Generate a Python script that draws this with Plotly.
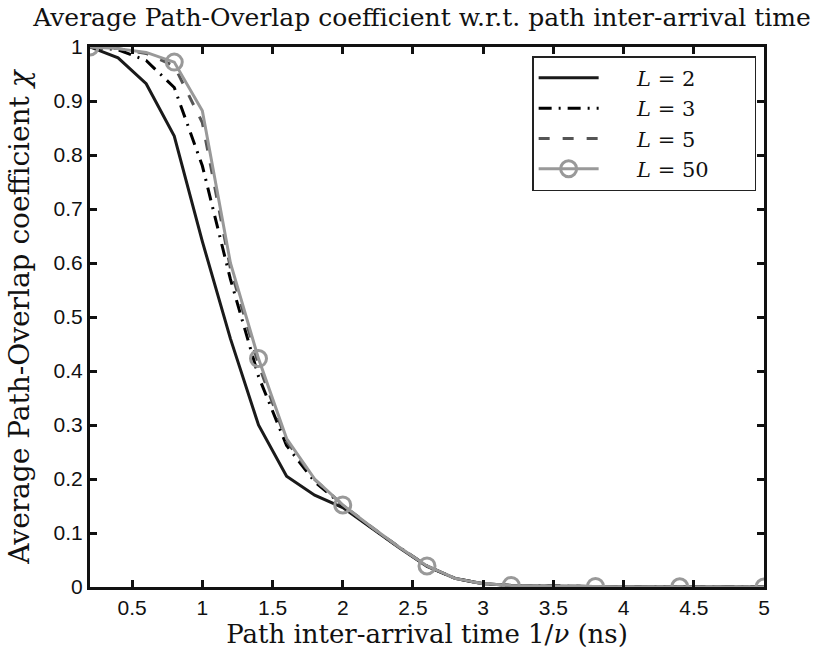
import plotly.graph_objects as go

x = [0.2, 0.4, 0.6, 0.8, 1.0, 1.2, 1.4, 1.6, 1.8, 2.0, 2.2, 2.4, 2.6,
     2.8, 3.0, 3.2, 3.4, 3.6, 3.8, 4.0, 4.2, 4.4, 4.6, 4.8, 5.0]

y_L2 = [1.0, 0.98, 0.932, 0.835, 0.64, 0.46, 0.30, 0.205, 0.17, 0.147, 0.11, 0.073, 0.038,
        0.016, 0.006, 0.003, 0.002, 0.001, 0.001, 0.0005, 0.0004, 0.0003, 0.0002, 0.0001, 0.0]
y_L3 = [1.0, 0.995, 0.975, 0.925, 0.78, 0.57, 0.39, 0.262, 0.195, 0.151, 0.111, 0.074, 0.039,
        0.016, 0.006, 0.003, 0.002, 0.001, 0.001, 0.0005, 0.0004, 0.0003, 0.0002, 0.0001, 0.0]
y_L5 = [1.0, 0.997, 0.988, 0.965, 0.86, 0.59, 0.412, 0.27, 0.199, 0.152, 0.112, 0.074, 0.039,
        0.016, 0.006, 0.003, 0.002, 0.001, 0.001, 0.0005, 0.0004, 0.0003, 0.0002, 0.0001, 0.0]
y_L50 = [1.0, 0.997, 0.99, 0.972, 0.882, 0.60, 0.423, 0.275, 0.200, 0.152, 0.112, 0.074, 0.039,
         0.016, 0.006, 0.003, 0.002, 0.001, 0.001, 0.0005, 0.0004, 0.0003, 0.0002, 0.0001, 0.0]

series_names = ["<i>L</i> = 2", "<i>L</i> = 3", "<i>L</i> = 5", "<i>L</i> = 50"]

x_ticks = [0.5, 1, 1.5, 2, 2.5, 3, 3.5, 4, 4.5, 5]
x_ticklabels = ["0.5", "1", "1.5", "2", "2.5", "3", "3.5", "4", "4.5", "5"]
y_ticks = [0, 0.1, 0.2, 0.3, 0.4, 0.5, 0.6, 0.7, 0.8, 0.9, 1]
y_ticklabels = ["0", "0.1", "0.2", "0.3", "0.4", "0.5", "0.6", "0.7", "0.8", "0.9", "1"]

GRAY50 = "#999999"
marker_colors = [GRAY50 if i % 3 == 0 else "rgba(0,0,0,0)" for i in range(len(x))]

pad_l = "\u00a0" * 5
pad_r = "\u00a0" * 6
legend_names = [pad_l + n + pad_r for n in series_names]

fig = go.Figure()
fig.add_trace(go.Scatter(x=x, y=y_L2, mode="lines", name=legend_names[0],
                         line=dict(color="#1a1a1a", width=3)))
fig.add_trace(go.Scatter(x=x, y=y_L3, mode="lines", name=legend_names[1],
                         line=dict(color="#000000", width=3, dash="13px,7px,2px,7px")))
fig.add_trace(go.Scatter(x=x, y=y_L5, mode="lines", name=legend_names[2],
                         line=dict(color="#555555", width=3, dash="11px,13px")))
fig.add_trace(go.Scatter(x=x, y=y_L50, mode="lines+markers", name=legend_names[3],
                         line=dict(color=GRAY50, width=3),
                         marker=dict(symbol="circle-open", size=16, color=marker_colors,
                                     line=dict(width=3))))

serif = "DejaVu Serif"
sans = "Liberation Sans"

fig.update_layout(
    width=822, height=656,
    margin=dict(l=90, r=58, t=47, b=69),
    paper_bgcolor="white", plot_bgcolor="white",
    title=dict(text="Average Path-Overlap coefficient w.r.t. path inter-arrival time",
               font=dict(family=serif, size=25, color="#111"),
               x=422 / 822, xref="container", xanchor="center",
               y=1 - 17 / 656, yref="container", yanchor="middle"),
    showlegend=True,
    legend=dict(x=0.656, y=0.983, xanchor="left", yanchor="top",
                bordercolor="#222", borderwidth=1.5, bgcolor="white",
                font=dict(family=serif, size=21, color="#111"),
                itemwidth=60, tracegroupgap=0),
    xaxis=dict(range=[0.2, 5], tickvals=x_ticks, ticktext=x_ticklabels,
               ticks="inside", ticklen=7, tickwidth=2.5, tickcolor="#111",
               showline=True, linewidth=3, linecolor="#111", mirror="ticks",
               showgrid=False, zeroline=False,
               tickfont=dict(family=sans, size=21, color="#111"),
               title=dict(text="Path inter-arrival time 1/<i>ν</i> (ns)",
                          font=dict(family=serif, size=26, color="#111"), standoff=2)),
    yaxis=dict(range=[0, 1], tickvals=y_ticks, ticktext=y_ticklabels,
               ticks="inside", ticklen=7, tickwidth=2.5, tickcolor="#111",
               showline=True, linewidth=3, linecolor="#111", mirror="ticks",
               showgrid=False, zeroline=False,
               tickfont=dict(family=sans, size=21, color="#111"),
               title=dict(text="Average Path-Overlap coefficient <i>χ</i>",
                          font=dict(family=serif, size=28, color="#111"), standoff=16)),
)

fig.write_html("out.html")
